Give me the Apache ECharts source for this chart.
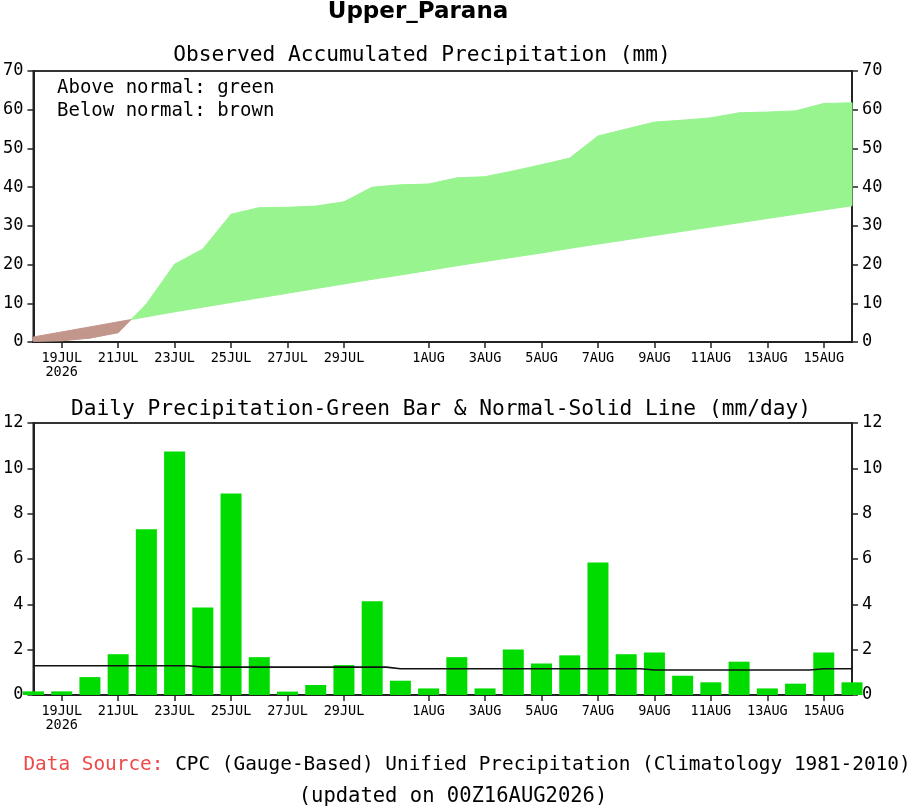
<!DOCTYPE html>
<html><head><meta charset="utf-8">
<script src="https://cdn.jsdelivr.net/npm/echarts@6/dist/echarts.min.js"></script>
<style>html,body{margin:0;padding:0;background:#fff}#c{width:922px;height:809px}</style>
</head><body><div id="c"></div>
<script>
// ---- data ----
const days = ['18JUL','19JUL','20JUL','21JUL','22JUL','23JUL','24JUL','25JUL','26JUL','27JUL','28JUL','29JUL','30JUL','31JUL',
  '1AUG','2AUG','3AUG','4AUG','5AUG','6AUG','7AUG','8AUG','9AUG','10AUG','11AUG','12AUG','13AUG','14AUG','15AUG','16AUG'];
const tickLabels = ['19JUL','21JUL','23JUL','25JUL','27JUL','29JUL','1AUG','3AUG','5AUG','7AUG','9AUG','11AUG','13AUG','15AUG'];
const yearLabel = '2026';
const accumObs = [0.15,0.3,1.0,2.4,9.8,20.1,24.0,33.0,34.7,34.8,35.1,36.2,40.0,40.6,40.8,42.4,42.7,44.2,45.8,47.5,
  53.2,55.0,56.8,57.3,57.9,59.2,59.4,59.7,61.6,61.8];
const accumNormal = [1.3,2.6,3.9,5.2,6.5,7.8,9.0,10.2,11.4,12.6,13.8,15.0,16.2,17.3,18.5,19.7,20.8,21.9,23.0,24.2,
  25.3,26.4,27.5,28.6,29.7,30.8,31.9,33.0,34.1,35.2];
const dailyObs = [0.16,0.16,0.79,1.80,7.31,10.74,3.86,8.89,1.67,0.15,0.44,1.32,4.14,0.63,0.29,1.67,0.29,2.01,1.39,1.75,
  5.85,1.80,1.88,0.85,0.56,1.47,0.29,0.50,1.88,0.56];
const dailyNormal = [1.29,1.29,1.29,1.29,1.29,1.29,1.23,1.23,1.23,1.23,1.23,1.23,1.23,1.16,1.16,1.16,1.16,1.16,1.16,1.16,
  1.16,1.16,1.10,1.10,1.10,1.10,1.10,1.10,1.16,1.16];

// ---- helpers ----
const MONO = '"DejaVu Sans Mono", monospace';
const GREEN_AREA = '#98f48f', BROWN_AREA = '#c2968a';
const tickIdx = tickLabels.map(l => days.indexOf(l));
const labelFmt = v => days[v] + (v === tickIdx[0] ? '\n' + yearLabel : '');

// points incl. crossings of observed/normal (for colour split)
const pts = [];
for (let i = 0; i < days.length; i++) {
  if (i > 0) {
    const d0 = accumObs[i-1] - accumNormal[i-1], d1 = accumObs[i] - accumNormal[i];
    if (d0 * d1 < 0) {
      const t = d0 / (d0 - d1);
      const y = accumObs[i-1] + t * (accumObs[i] - accumObs[i-1]);
      pts.push([i - 1 + t, y, y]);
    }
  }
  pts.push([i, accumObs[i], accumNormal[i]]);
}
// segments: [x0, obs0, norm0, x1, obs1, norm1]
const segs = [];
for (let k = 0; k < pts.length - 1; k++) segs.push(pts[k].concat(pts[k+1]));

const axisLine = {show: true, lineStyle: {color: '#222', width: 2}};
function xAxis(gi) {
  return {
    type: 'value', gridIndex: gi, min: 0, max: days.length - 1,
    axisLine: axisLine,
    splitLine: {show: false},
    axisTick: {show: true, customValues: tickIdx, length: 6, lineStyle: {color: '#222', width: 1.5}},
    axisLabel: {customValues: tickIdx, formatter: labelFmt, fontFamily: MONO, fontSize: 13.5, color: '#000', margin: 9, lineHeight: 14}
  };
}
function yAxis(gi, max, interval, pos) {
  return {
    type: 'value', gridIndex: gi, min: 0, max: max, interval: interval, position: pos,
    axisLine: axisLine,
    splitLine: {show: false},
    axisTick: {show: true, length: 6, lineStyle: {color: '#222', width: 1.5}},
    axisLabel: {fontFamily: MONO, fontSize: 17, color: '#000', margin: 10}
  };
}

const chart = echarts.init(document.getElementById('c'), null, {renderer: 'canvas'});
chart.setOption({
  backgroundColor: '#fff',
  animation: false,
  grid: [
    {left: 33, right: 70, top: 71, height: 271, show: true, borderColor: '#333', borderWidth: 2},
    {left: 33, right: 70, top: 423, height: 272, show: true, borderColor: '#333', borderWidth: 2}
  ],
  xAxis: [xAxis(0), xAxis(1)],
  yAxis: [yAxis(0, 70, 10, 'left'), yAxis(0, 70, 10, 'right'), yAxis(1, 12, 2, 'left'), yAxis(1, 12, 2, 'right')],
  series: [
    {type: 'custom', xAxisIndex: 0, yAxisIndex: 0, z: 1,
     encode: {x: [0, 3], y: [1, 2, 4, 5]},
     data: segs,
     renderItem: function (params, api) {
       const x0 = api.value(0), o0 = api.value(1), n0 = api.value(2);
       const x1 = api.value(3), o1 = api.value(4), n1 = api.value(5);
       const above = (o0 + o1) >= (n0 + n1);
       const col = above ? GREEN_AREA : BROWN_AREA;
       return {
         type: 'polygon',
         shape: {points: [api.coord([x0, o0]), api.coord([x1, o1]), api.coord([x1, n1]), api.coord([x0, n0])]},
         style: {fill: col, stroke: col, lineWidth: 1}
       };
     }},
    {type: 'bar', xAxisIndex: 1, yAxisIndex: 2, barWidth: 21, clip: true,
     itemStyle: {color: '#00dc00'},
     data: dailyObs.map((v, i) => [i, v])},
    {type: 'line', xAxisIndex: 1, yAxisIndex: 2, step: 'middle', symbol: 'none', z: 5,
     lineStyle: {color: '#111', width: 1.6},
     data: dailyNormal.map((v, i) => [i, v])}
  ],
  graphic: [
    {type: 'text', x: 418, y: 12, style: {text: 'Upper_Parana', align: 'center', verticalAlign: 'middle',
      fontFamily: '"DejaVu Sans", sans-serif', fontWeight: 'bold', fontSize: 23, fill: '#000'}},
    {type: 'text', x: 422, y: 55, style: {text: 'Observed Accumulated Precipitation (mm)', align: 'center', verticalAlign: 'middle',
      fontFamily: MONO, fontSize: 21.2, fill: '#000'}},
    {type: 'text', x: 57, y: 88, z: 10, style: {text: 'Above normal: green', align: 'left', verticalAlign: 'middle',
      fontFamily: MONO, fontSize: 19, fill: '#000'}},
    {type: 'text', x: 57, y: 111, z: 10, style: {text: 'Below normal: brown', align: 'left', verticalAlign: 'middle',
      fontFamily: MONO, fontSize: 19, fill: '#000'}},
    {type: 'text', x: 441, y: 409, style: {text: 'Daily Precipitation-Green Bar & Normal-Solid Line (mm/day)', align: 'center', verticalAlign: 'middle',
      fontFamily: MONO, fontSize: 21.2, fill: '#000'}},
    {type: 'text', x: 467, y: 765, style: {text: '{r|Data Source:} CPC (Gauge-Based) Unified Precipitation (Climatology 1981-2010)',
      align: 'center', verticalAlign: 'middle', fontFamily: MONO, fontSize: 19.4, fill: '#000',
      rich: {r: {fill: '#f04848', fontFamily: MONO, fontSize: 19.4}}}},
    {type: 'text', x: 453, y: 797, style: {text: '(updated on 00Z16AUG2026)', align: 'center', verticalAlign: 'middle',
      fontFamily: MONO, fontSize: 20.5, fill: '#000'}}
  ]
});
</script>
</body></html>
